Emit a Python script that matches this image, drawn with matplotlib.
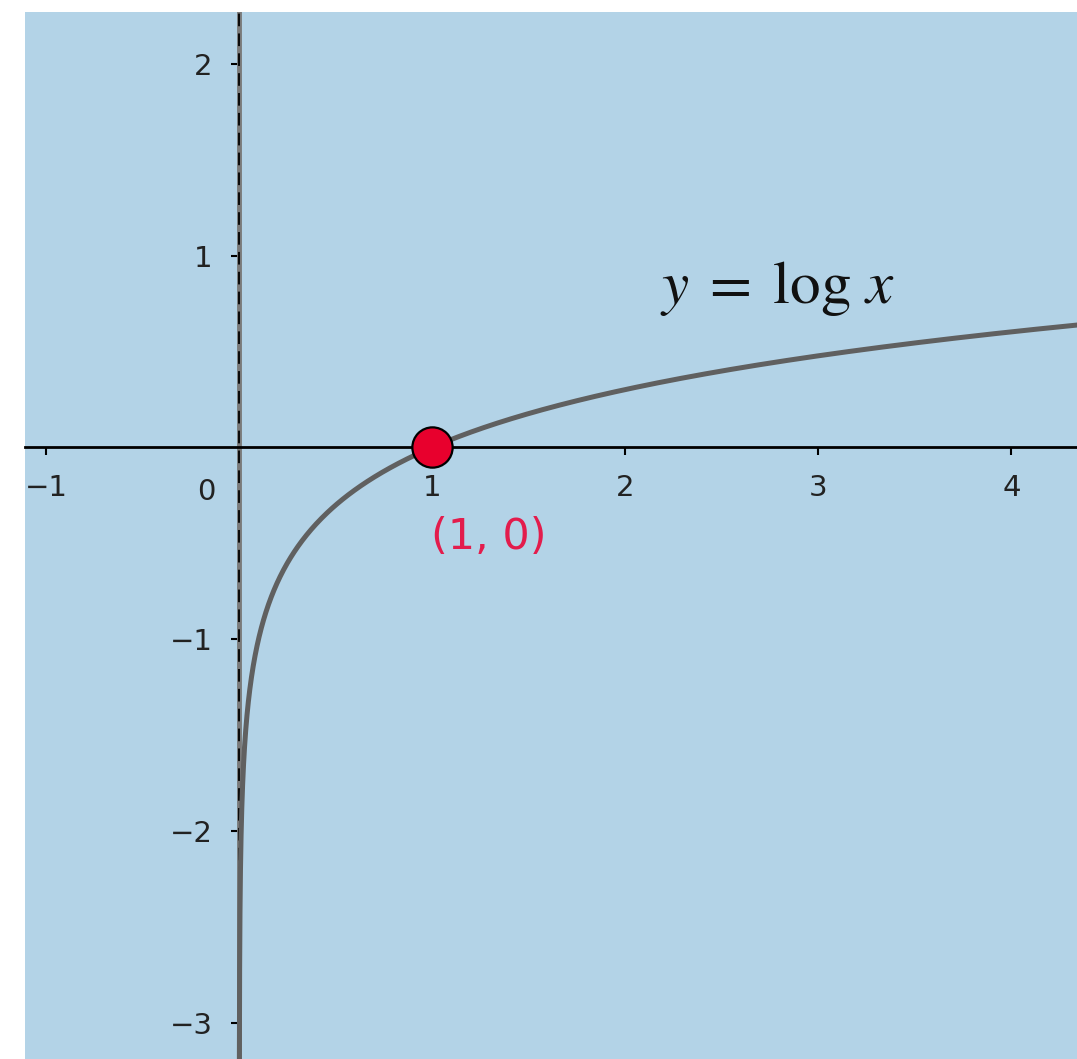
import numpy as np
import matplotlib.pyplot as plt

# axis ranges and tick values
x_range = (-1.11, 4.34)
y_range = (-3.19, 2.27)
x_ticks = [-1, 1, 2, 3, 4]
y_ticks = [-3, -2, -1, 1, 2]

# the marked point on the curve
point = (1, 0)
point_label = "(1, 0)"

bg = "#b3d3e7"
curve_color = "#606060"
red = "#e8002d"

fig = plt.figure(figsize=(10.77, 10.59), dpi=100)
ax = fig.add_axes([25 / 1077, 0, 1052 / 1077, 1047 / 1059])
ax.set_facecolor(bg)
ax.set_xlim(*x_range)
ax.set_ylim(*y_range)

# y = log x
xs = np.logspace(-4, np.log10(4.6), 800)
ax.plot(xs, np.log10(xs), color=curve_color, lw=3.6, zorder=3, solid_capstyle="butt")

# axes through the origin
for s in ["top", "right"]:
    ax.spines[s].set_visible(False)
ax.spines["bottom"].set_position(("data", 0))
ax.spines["bottom"].set_linewidth(2)
ax.spines["left"].set_position(("data", 0))
ax.spines["left"].set_visible(False)
ax.axvline(0, color="#7a7a7a", lw=3.5, zorder=2)
ax.axvline(0, color="black", lw=1.3, ls=(0, (7, 4)), zorder=2.5)

ax.set_xticks(x_ticks)
ax.set_yticks(y_ticks)
ax.set_xticklabels(["\u22121" if t < 0 else str(t) for t in x_ticks])
ax.set_yticklabels(["\u2212%d" % -t if t < 0 else str(t) for t in y_ticks])
ax.tick_params(axis="x", direction="out", length=6, width=1.5, pad=13,
               labelsize=21, labelcolor="#222222")
ax.tick_params(axis="y", direction="out", length=6, width=1.5, pad=13,
               labelsize=21, labelcolor="#222222")
ax.text(-0.17, -0.235, "0", fontsize=21, color="#222222", ha="center", va="center")

# point (1, 0)
ax.plot(*point, "o", ms=29, mfc=red, mec="black", mew=1.6, zorder=5, clip_on=False)
ax.text(1.29, -0.47, point_label, fontsize=31, color="#e31c4c", ha="center", va="center")

ax.text(2.79, 0.83, r"$y\;=\;\log\,x$", fontsize=44, color="#111111",
        ha="center", va="center", math_fontfamily="stix")

fig.savefig("out.png", dpi=100, facecolor="white")
